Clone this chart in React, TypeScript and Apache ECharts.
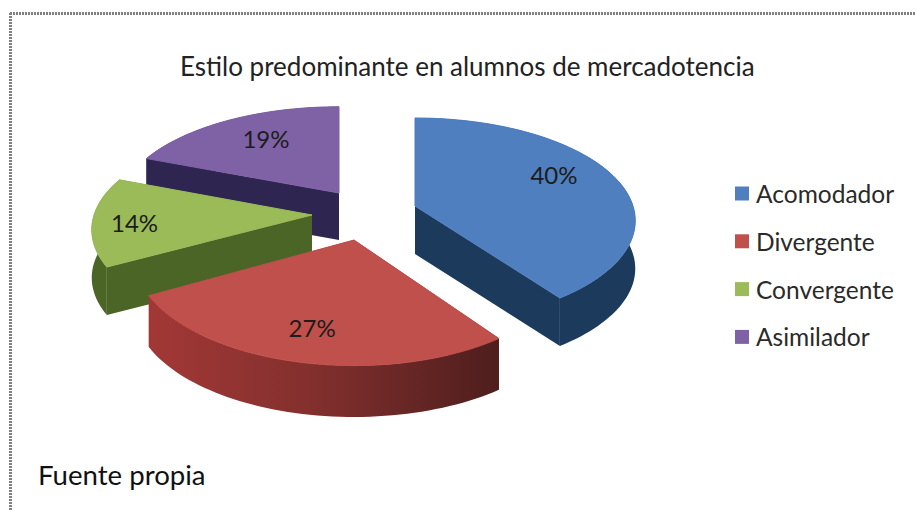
import React, { useEffect, useRef } from "react";
import * as echarts from "echarts";

const TITLE = "Estilo predominante en alumnos de mercadotencia";
const SOURCE = "Fuente propia";
const CATEGORIES = ["Acomodador", "Divergente", "Convergente", "Asimilador"];
const VALUES = [40, 27, 14, 19];

const TOP_COLORS = ["#4f7fbf", "#bf504c", "#9abb58", "#7f62a6"];
const SIDE_COLORS: any[] = [
  "#1c3a5c",
  new echarts.graphic.LinearGradient(0, 0, 1, 0, [
    { offset: 0, color: "#a23836" },
    { offset: 0.45, color: "#84302e" },
    { offset: 1, color: "#4e1e1d" },
  ]),
  "#4b6527",
  "#2e2650",
];
// Per-slice layout of the exploded 3D pie (not data)
const TIPS = [
  [415, 206],
  [354, 240],
  [312, 215],
  [339, 193],
];
const STRETCH_Y = [1, 1.07, 1, 0.98];
const LABEL_NUDGE = [
  [-8, -9],
  [-1, -3],
  [-15, 3],
  [8, -1],
];
const DRAW_ORDER = [3, 2, 0, 1];
const RX = 218;
const RY = 100.6;
const PERSPECTIVE = 0.143;
const DEPTH = 48;
const LABEL_AT = 0.74;

const total = VALUES.reduce((a, b) => a + b, 0);

function project(tip: number[], stretch: number, angle: number, r = 1) {
  const X = Math.sin(angle);
  const Y = -Math.cos(angle);
  const s = 1 / (1 - PERSPECTIVE * Y);
  return [tip[0] + r * RX * X * s, tip[1] + r * RY * stretch * Y * s];
}

function sliceRenderer(index: number) {
  return (_params: any, api: any) => {
    const before = VALUES.slice(0, index).reduce((a, b) => a + b, 0);
    const value = api.value(0);
    const a0 = (before / total) * Math.PI * 2;
    const a1 = ((before + value) / total) * Math.PI * 2;
    const tip = TIPS[index];
    const stretch = STRETCH_Y[index];
    const depth = DEPTH * stretch;
    const arc: number[][] = [];
    const steps = Math.max(8, Math.round((a1 - a0) / 0.03));
    for (let i = 0; i <= steps; i++) arc.push(project(tip, stretch, a0 + ((a1 - a0) * i) / steps));
    const down = (p: number[]) => [p[0], p[1] + depth];
    const side = SIDE_COLORS[index];
    const first = arc[0];
    const last = arc[arc.length - 1];
    const poly = (points: number[][], fill: any) => ({
      type: "polygon",
      shape: { points },
      style: { fill, stroke: fill === TOP_COLORS[index] ? fill : undefined },
    });
    const mid = project(tip, stretch, (a0 + a1) / 2, LABEL_AT);
    return {
      type: "group",
      children: [
        poly([tip, first, down(first), down(tip)], side),
        poly([tip, last, down(last), down(tip)], side),
        poly([...arc, ...arc.slice().reverse().map(down)], side),
        poly([tip, ...arc], TOP_COLORS[index]),
        {
          type: "text",
          x: mid[0] + LABEL_NUDGE[index][0],
          y: mid[1] + LABEL_NUDGE[index][1],
          style: {
            text: `${value}%`,
            fill: "#1c1c1c",
            font: '24px Lato, "Open Sans", sans-serif',
            align: "center",
            verticalAlign: "middle",
          },
        },
      ],
    };
  };
}

export default function App() {
  const ref = useRef<HTMLDivElement>(null);
  useEffect(() => {
    const chart = echarts.init(ref.current!, undefined, { renderer: "svg" });
    chart.setOption({
      animation: false,
      backgroundColor: "#ffffff",
      title: {
        text: TITLE,
        left: 180,
        top: 53,
        padding: 0,
        textStyle: { color: "#222222", fontSize: 26, fontWeight: "normal", fontFamily: "Lato" },
      },
      legend: {
        data: CATEGORIES,
        orient: "vertical",
        left: 735,
        top: 181,
        icon: "rect",
        itemWidth: 14,
        itemHeight: 14,
        itemGap: 22.8,
        padding: 0,
        textStyle: { color: "#2a2a2a", fontSize: 24.5, fontFamily: "Lato", padding: [0, 0, 0, 2] },
      },
      graphic: [
        { type: "line", shape: { x1: 10, y1: 13.5, x2: 915, y2: 13.5 }, style: { stroke: "#808080", lineWidth: 3, lineDash: [2, 1] } },
        { type: "line", shape: { x1: 10.5, y1: 13, x2: 10.5, y2: 510 }, style: { stroke: "#808080", lineWidth: 3, lineDash: [2, 1] } },
        {
          type: "text",
          x: 38,
          y: 474,
          style: { text: SOURCE, fill: "#111111", font: '27.6px Lato, "Open Sans", sans-serif', verticalAlign: "middle" },
        },
      ],
      series: DRAW_ORDER.map((i) => ({
        type: "custom",
        name: CATEGORIES[i],
        coordinateSystem: "none",
        itemStyle: { color: TOP_COLORS[i] },
        data: [[VALUES[i]]],
        renderItem: sliceRenderer(i),
        silent: true,
      })),
    });
    return () => chart.dispose();
  }, []);
  return <div ref={ref} style={{ position: "absolute", left: 0, top: 0, width: 915, height: 510 }} />;
}
